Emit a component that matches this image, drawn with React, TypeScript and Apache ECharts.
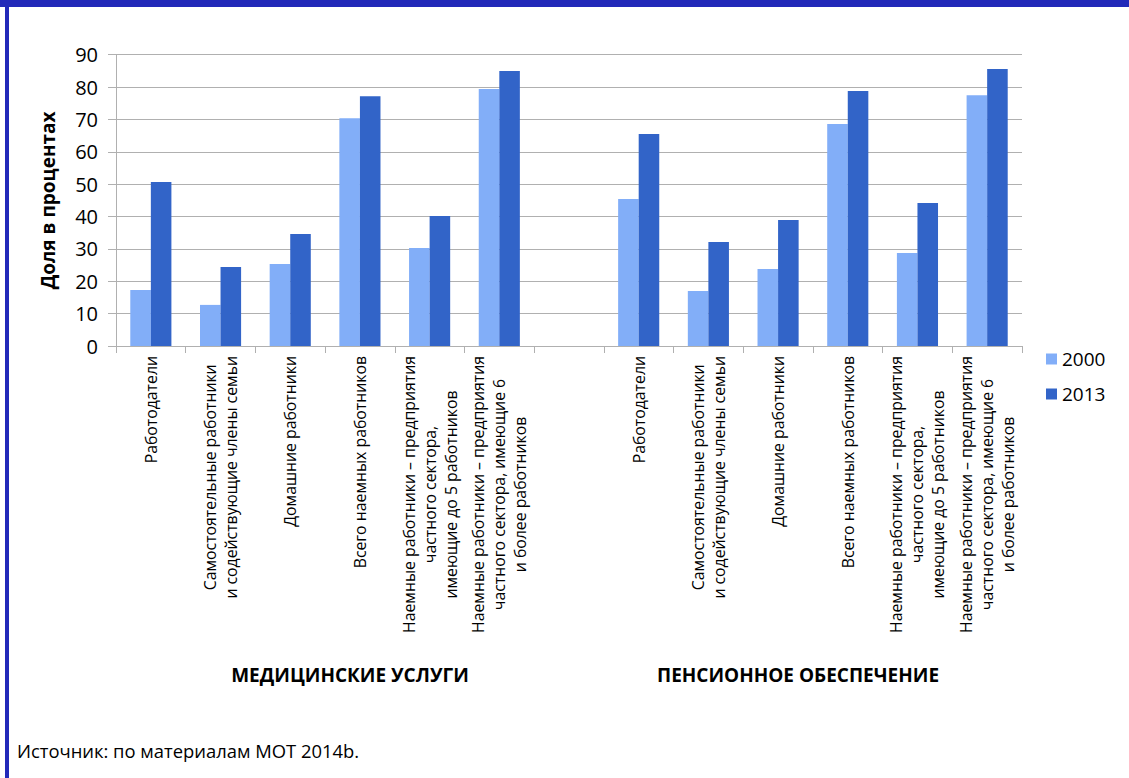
import React, { useEffect, useRef } from "react";
import * as echarts from "echarts";

// Category labels for each occupational group (same set for both panels)
const groupLabels: string[] = [
  "Работодатели",
  "Самостоятельные работники\nи содействующие члены семьи",
  "Домашние работники",
  "Всего наемных работников",
  "Наемные работники – предприятия\nчастного сектора,\nимеющие до 5 работников",
  "Наемные работники – предприятия\nчастного сектора, имеющие 6\nи более работников",
];

// Medical services panel, then an empty spacer slot, then pensions panel
const categories: string[] = [...groupLabels, "", ...groupLabels];

const medical2000: number[] = [17.3, 12.7, 25.3, 70.4, 30.3, 79.4];
const medical2013: number[] = [50.7, 24.4, 34.6, 77.2, 40.2, 85.0];
const pension2000: number[] = [45.4, 17.0, 23.8, 68.6, 28.7, 77.5];
const pension2013: number[] = [65.5, 32.1, 38.9, 78.8, 44.2, 85.6];

const years: string[] = ["2000", "2013"];
const panelTitles: string[] = ["МЕДИЦИНСКИЕ УСЛУГИ", "ПЕНСИОННОЕ ОБЕСПЕЧЕНИЕ"];
const yAxisTitle = "Доля в процентах";
const sourceNote = "Источник: по материалам МОТ 2014b.";

const FONT = "'Open Sans', 'Noto Sans', sans-serif";
const FRAME = "#2229b9";
const LABEL_SIZE = 15.8;

export default function App() {
  const ref = useRef<HTMLDivElement>(null);

  useEffect(() => {
    if (!ref.current) return;
    const chart = echarts.init(ref.current, undefined, { renderer: "svg" });

    const s2000 = [...medical2000, null, ...pension2000];
    const s2013 = [...medical2013, null, ...pension2013];

    chart.setOption({
      animation: false,
      backgroundColor: "#ffffff",
      textStyle: { fontFamily: FONT, color: "#000" },
      grid: { left: 116, right: 107, top: 54.7, bottom: 432, containLabel: false },
      legend: {
        orient: "vertical",
        left: 1046,
        top: 349,
        padding: 0,
        itemWidth: 11,
        itemHeight: 11,
        itemGap: 15,
        icon: "rect",
        data: years,
        textStyle: { fontFamily: FONT, fontSize: 19, lineHeight: 20, color: "#000" },
      },
      xAxis: {
        type: "category",
        data: categories,
        boundaryGap: true,
        axisLine: { show: true, lineStyle: { color: "#b0b0b0", width: 1 } },
        axisTick: { show: true, length: 7, interval: 0, lineStyle: { color: "#b0b0b0" } },
        axisLabel: {
          interval: 0,
          rotate: 90,
          margin: 10,
          color: "#000",
          fontFamily: FONT,
          fontSize: LABEL_SIZE,
          lineHeight: 21,
          formatter: (_v: string, i: number) =>
            categories[i]
              .split("\n")
              .map((l) => `{c|${l}}`)
              .join("\n"),
          rich: {
            c: { align: "center", fontFamily: FONT, fontSize: LABEL_SIZE, lineHeight: 21, color: "#000" },
          },
        },
      },
      yAxis: {
        type: "value",
        min: 0,
        max: 90,
        interval: 10,
        name: yAxisTitle,
        nameLocation: "middle",
        nameRotate: 90,
        nameGap: 59,
        nameTextStyle: { fontFamily: FONT, fontSize: 19, fontWeight: "bold", color: "#000" },
        axisLine: { show: true, lineStyle: { color: "#b0b0b0", width: 1 } },
        axisTick: { show: true, length: 8, lineStyle: { color: "#b0b0b0" } },
        axisLabel: { margin: 18, color: "#000", fontFamily: FONT, fontSize: 20 },
        splitLine: { show: true, lineStyle: { color: "#b0b0b0", width: 1 } },
      },
      series: [
        {
          name: years[0],
          type: "bar",
          data: s2000,
          barGap: "0%",
          barCategoryGap: "41%",
          itemStyle: { color: "#82aef8" },
        },
        {
          name: years[1],
          type: "bar",
          data: s2013,
          barGap: "0%",
          barCategoryGap: "41%",
          itemStyle: { color: "#3264c8" },
        },
      ],
      graphic: [
        { type: "rect", shape: { x: 0, y: 0, width: 1129, height: 7 }, style: { fill: FRAME }, silent: true },
        { type: "rect", shape: { x: 5, y: 0, width: 4, height: 778 }, style: { fill: FRAME }, silent: true },
        {
          type: "text",
          x: 350,
          y: 675,
          style: {
            text: panelTitles[0],
            fontFamily: FONT,
            fontSize: 19,
            fontWeight: "bold",
            fill: "#000",
            textAlign: "center",
            textVerticalAlign: "middle",
          },
        },
        {
          type: "text",
          x: 798,
          y: 675,
          style: {
            text: panelTitles[1],
            fontFamily: FONT,
            fontSize: 19,
            fontWeight: "bold",
            fill: "#000",
            textAlign: "center",
            textVerticalAlign: "middle",
          },
        },
        {
          type: "text",
          x: 17,
          y: 750,
          style: {
            text: sourceNote,
            fontFamily: FONT,
            fontSize: 18.4,
            fill: "#000",
            textAlign: "left",
            textVerticalAlign: "middle",
          },
        },
      ],
    });

    return () => chart.dispose();
  }, []);

  return (
    <div
      ref={ref}
      style={{ position: "absolute", left: 0, top: 0, width: 1129, height: 778, background: "#fff" }}
    />
  );
}
